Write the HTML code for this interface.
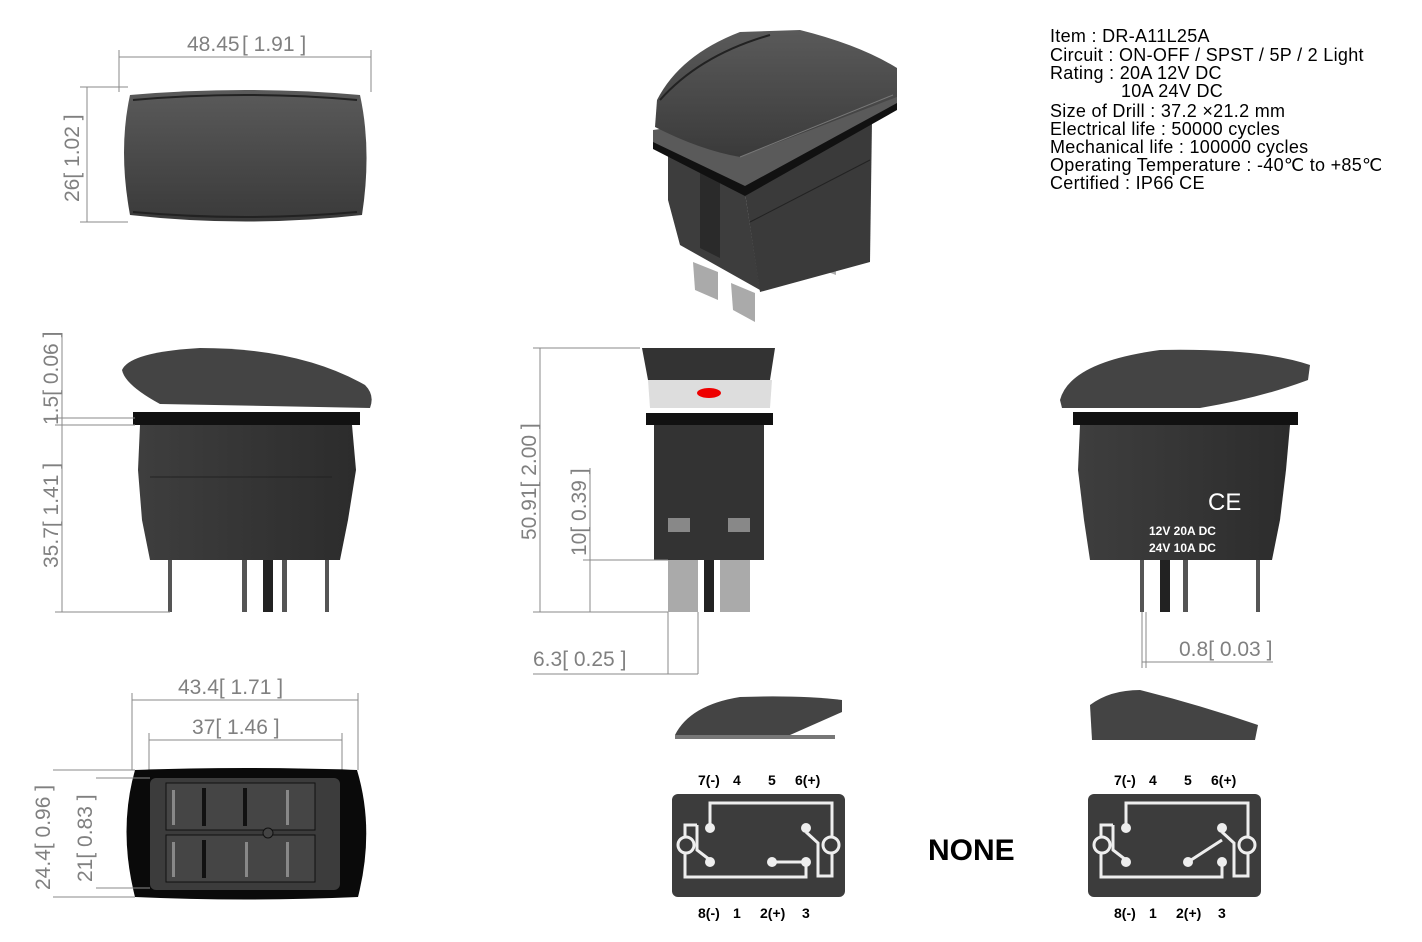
<!DOCTYPE html>
<html><head><meta charset="utf-8"><style>
html,body{margin:0;padding:0;background:#fff;}
svg{display:block;}
.d{font-family:"Liberation Sans",sans-serif;fill:#808080;font-size:21px;}
.t{font-family:"Liberation Sans",sans-serif;fill:#000;font-size:18px;letter-spacing:0.3px;}
.p{font-family:"Liberation Sans",sans-serif;fill:#000;font-size:14px;font-weight:bold;}
.ln{stroke:#8a8a8a;stroke-width:1;fill:none;}
</style></head><body>
<svg width="1422" height="942" viewBox="0 0 1422 942" xmlns="http://www.w3.org/2000/svg">
<defs>
<linearGradient id="g1" x1="0" y1="0" x2="0" y2="1"><stop offset="0" stop-color="#5a5a5a"/><stop offset="1" stop-color="#3a3a3a"/></linearGradient>
<linearGradient id="g2" x1="0" y1="0" x2="1" y2="0"><stop offset="0" stop-color="#3e3e3e"/><stop offset="1" stop-color="#2c2c2c"/></linearGradient>
</defs>

<!-- Top-left top view -->
<path d="M130 95 Q245 85 360 95 Q372 150 362 215 Q245 228 130 215 Q118 150 130 95Z" fill="url(#g1)"/>
<path d="M133 100 Q245 90 357 100" stroke="#222" stroke-width="2" fill="none"/>
<path d="M133 212 Q245 222 357 212" stroke="#222" stroke-width="2" fill="none"/>
<path class="ln" d="M119 57 H371 M119 50 V92 M371 50 V92"/>
<text class="d" x="187" y="51">48.45</text><text class="d" x="242" y="51">[ 1.91 ]</text>
<path class="ln" d="M87 87 V222 M80 87 H128 M80 222 H128"/>
<text class="d" transform="translate(79 202) rotate(-90)">26[ 1.02 ]</text>

<!-- Left side view -->
<path d="M122 370 Q130 352 200 348 Q300 348 365 385 Q375 395 370 408 L160 404 Q125 385 122 370Z" fill="#444"/>
<rect x="133" y="412" width="227" height="13" fill="#111"/>
<path d="M140 425 H352 L356 470 L348 520 L340 560 H150 L142 520 L138 470Z" fill="url(#g2)"/>
<line x1="150" y1="477" x2="332" y2="477" stroke="#222"/>
<rect x="168" y="560" width="4" height="52" fill="#555"/>
<rect x="242" y="560" width="5" height="52" fill="#555"/>
<rect x="263" y="560" width="10" height="52" fill="#222"/>
<rect x="282" y="560" width="5" height="52" fill="#555"/>
<rect x="325" y="560" width="4" height="52" fill="#555"/>
<path class="ln" d="M62 336 V612 M55 418 H135 M55 425 H135 M55 612 H170"/>
<text class="d" transform="translate(58 425) rotate(-90)">1.5[ 0.06 ]</text>
<text class="d" transform="translate(58 568) rotate(-90)">35.7[ 1.41 ]</text>

<!-- 3D view -->
<path d="M693 262 L718 272 L718 300 L695 290Z" fill="#aaa"/>
<path d="M731 283 L755 293 L755 322 L733 310Z" fill="#aaa"/>
<path d="M810 255 L835 248 L836 275 L812 266Z" fill="#aaa"/>
<path d="M668 150 L745 193 L760 290 L680 245 L668 200Z" fill="#3d3d3d"/>
<path d="M745 193 L872 120 L870 262 L760 292Z" fill="#3a3a3a"/>
<line x1="750" y1="222" x2="870" y2="160" stroke="#222"/>
<path d="M700 170 L720 180 L720 258 L700 248Z" fill="#2a2a2a"/>
<path d="M653 130 L897 95 L897 107 L745 190 L653 145Z" fill="#5a5a5a"/>
<path d="M653 142 L745 186 L897 103 L897 110 L745 196 L653 149Z" fill="#111"/>
<path d="M655 127 L657 100 Q680 55 740 32 L800 30 Q860 45 897 68 L897 97 L740 157 Q700 150 655 127Z" fill="url(#g1)"/>
<path d="M660 100 Q700 55 770 35" stroke="#222" stroke-width="2" fill="none"/>
<path d="M740 157 L893 95" stroke="#777" stroke-width="1" fill="none"/>

<!-- Info text -->
<text class="t" x="1050" y="42">Item : DR-A11L25A</text>
<text class="t" x="1050" y="61">Circuit : ON-OFF / SPST / 5P / 2 Light</text>
<text class="t" x="1050" y="79">Rating : 20A 12V DC</text>
<text class="t" x="1121" y="97">10A 24V DC</text>
<text class="t" x="1050" y="117">Size of Drill : 37.2 ×21.2 mm</text>
<text class="t" x="1050" y="135">Electrical life : 50000 cycles</text>
<text class="t" x="1050" y="153">Mechanical life : 100000 cycles</text>
<text class="t" x="1050" y="171">Operating Temperature : -40℃ to +85℃</text>
<text class="t" x="1050" y="189">Certified :  IP66   CE</text>

<!-- Front view center -->
<path d="M642 348 H775 L770 380 H648Z" fill="#333"/>
<path d="M648 380 H772 L770 408 H650Z" fill="#ddd"/>
<ellipse cx="709" cy="393" rx="12" ry="5" fill="#e00"/>
<rect x="646" y="413" width="127" height="12" fill="#111"/>
<rect x="654" y="425" width="110" height="135" fill="#333"/>
<rect x="668" y="518" width="22" height="14" fill="#888"/>
<rect x="728" y="518" width="22" height="14" fill="#888"/>
<rect x="668" y="560" width="30" height="52" fill="#aaa"/>
<rect x="720" y="560" width="30" height="52" fill="#aaa"/>
<rect x="704" y="560" width="10" height="52" fill="#222"/>
<path class="ln" d="M540 348 V612 M533 348 H640 M533 612 H668 M590 468 V612 M583 560 H668"/>
<text class="d" transform="translate(536 540) rotate(-90)">50.91[ 2.00 ]</text>
<text class="d" transform="translate(586 556) rotate(-90)">10[ 0.39 ]</text>
<path class="ln" d="M668 612 V674 M698 612 V674 M533 674 H698"/>
<text class="d" x="533" y="666">6.3[ 0.25 ]</text>

<!-- Right side view -->
<path d="M1060 400 Q1070 362 1160 350 Q1260 348 1310 365 L1308 380 Q1260 398 1200 408 L1062 408Z" fill="#444"/>
<rect x="1073" y="412" width="225" height="13" fill="#111"/>
<path d="M1080 425 H1290 L1286 470 L1280 520 L1272 560 H1090 L1084 520 L1078 470Z" fill="url(#g2)"/>
<text x="1208" y="510" font-family="Liberation Sans,sans-serif" font-size="24" fill="#fff">CE</text>
<text x="1149" y="535" font-family="Liberation Sans,sans-serif" font-size="12" font-weight="bold" fill="#fff">12V  20A  DC</text>
<text x="1149" y="552" font-family="Liberation Sans,sans-serif" font-size="12" font-weight="bold" fill="#fff">24V  10A  DC</text>
<rect x="1140" y="560" width="4" height="52" fill="#555"/>
<rect x="1160" y="560" width="10" height="52" fill="#222"/>
<rect x="1183" y="560" width="5" height="52" fill="#555"/>
<rect x="1256" y="560" width="4" height="52" fill="#555"/>
<path class="ln" d="M1142 612 V668 M1146 612 V668 M1142 662 H1273"/>
<text class="d" x="1179" y="656">0.8[ 0.03 ]</text>

<!-- Bottom-left bottom view -->
<path class="ln" d="M132 700 H358 M132 693 V770 M358 693 V770 M149 740 H342 M149 733 V775 M342 733 V775"/>
<text class="d" x="178" y="694">43.4[ 1.71 ]</text>
<text class="d" x="192" y="734">37[ 1.46 ]</text>
<path d="M135 770 Q245 766 357 770 Q375 830 358 897 Q245 902 135 897 Q118 830 135 770Z" fill="#0a0a0a"/>
<rect x="150" y="778" width="190" height="112" rx="6" fill="#3c3c3c"/>
<rect x="166" y="783" width="149" height="47" fill="#454545" stroke="#111"/>
<rect x="166" y="835" width="149" height="47" fill="#454545" stroke="#111"/>
<rect x="202" y="788" width="4" height="38" fill="#111"/><rect x="243" y="788" width="4" height="38" fill="#111"/>
<rect x="202" y="840" width="4" height="38" fill="#111"/>
<rect x="172" y="790" width="3" height="35" fill="#888"/><rect x="172" y="842" width="3" height="35" fill="#888"/>
<rect x="245" y="842" width="3" height="35" fill="#888"/>
<rect x="286" y="790" width="3" height="35" fill="#888"/><rect x="286" y="842" width="3" height="35" fill="#888"/>
<circle cx="268" cy="833" r="5" fill="#444" stroke="#111"/>
<path class="ln" d="M53 770 H135 M53 897 H135 M96 778 H150 M96 888 H150"/>
<text class="d" transform="translate(50 890) rotate(-90)">24.4[ 0.96 ]</text>
<text class="d" transform="translate(92 882) rotate(-90)">21[ 0.83 ]</text>

<!-- Small profiles -->
<path d="M675 735 Q690 705 740 697 Q800 695 842 700 L842 712 L790 735Z" fill="#444"/>
<rect x="675" y="735" width="160" height="4" fill="#777"/>
<path d="M1090 705 Q1110 690 1140 690 Q1200 705 1258 725 L1255 740 L1092 740Z" fill="#444"/>

<!-- Schematics -->
<g id="s1">
<text class="p" x="698" y="785">7(-)</text><text class="p" x="733" y="785">4</text><text class="p" x="768" y="785">5</text><text class="p" x="795" y="785">6(+)</text>
<rect x="672" y="794" width="173" height="103" rx="6" fill="#3c3c3c"/>
<path d="M710 828 V803 H832 V876 H818 V843 L806 832 M697 825 H685 V877 H806 V862 M697 825 V850 L710 860 M776 862 H806" stroke="#eee" stroke-width="3" fill="none"/>
<circle cx="710" cy="828" r="5" fill="#eee"/><circle cx="710" cy="862" r="5" fill="#eee"/><circle cx="806" cy="828" r="5" fill="#eee"/><circle cx="806" cy="862" r="5" fill="#eee"/><circle cx="772" cy="862" r="5" fill="#eee"/>
<circle cx="686" cy="845" r="8" fill="#3c3c3c" stroke="#eee" stroke-width="3"/><circle cx="831" cy="845" r="8" fill="#3c3c3c" stroke="#eee" stroke-width="3"/>
<text class="p" x="698" y="918">8(-)</text><text class="p" x="733" y="918">1</text><text class="p" x="760" y="918">2(+)</text><text class="p" x="802" y="918">3</text>
</g>
<g transform="translate(416 0)">
<text class="p" x="698" y="785">7(-)</text><text class="p" x="733" y="785">4</text><text class="p" x="768" y="785">5</text><text class="p" x="795" y="785">6(+)</text>
<rect x="672" y="794" width="173" height="103" rx="6" fill="#3c3c3c"/>
<path d="M710 828 V803 H832 V876 H818 V843 L806 832 M697 825 H685 V877 H806 V862 M697 825 V850 L710 860 M772 862 L806 840" stroke="#eee" stroke-width="3" fill="none"/>
<circle cx="710" cy="828" r="5" fill="#eee"/><circle cx="710" cy="862" r="5" fill="#eee"/><circle cx="806" cy="828" r="5" fill="#eee"/><circle cx="806" cy="862" r="5" fill="#eee"/><circle cx="772" cy="862" r="5" fill="#eee"/>
<circle cx="686" cy="845" r="8" fill="#3c3c3c" stroke="#eee" stroke-width="3"/><circle cx="831" cy="845" r="8" fill="#3c3c3c" stroke="#eee" stroke-width="3"/>
<text class="p" x="698" y="918">8(-)</text><text class="p" x="733" y="918">1</text><text class="p" x="760" y="918">2(+)</text><text class="p" x="802" y="918">3</text>
</g>
<text x="928" y="860" font-family="Liberation Sans,sans-serif" font-size="30" font-weight="bold" fill="#000">NONE</text>
</svg>
</body></html>
